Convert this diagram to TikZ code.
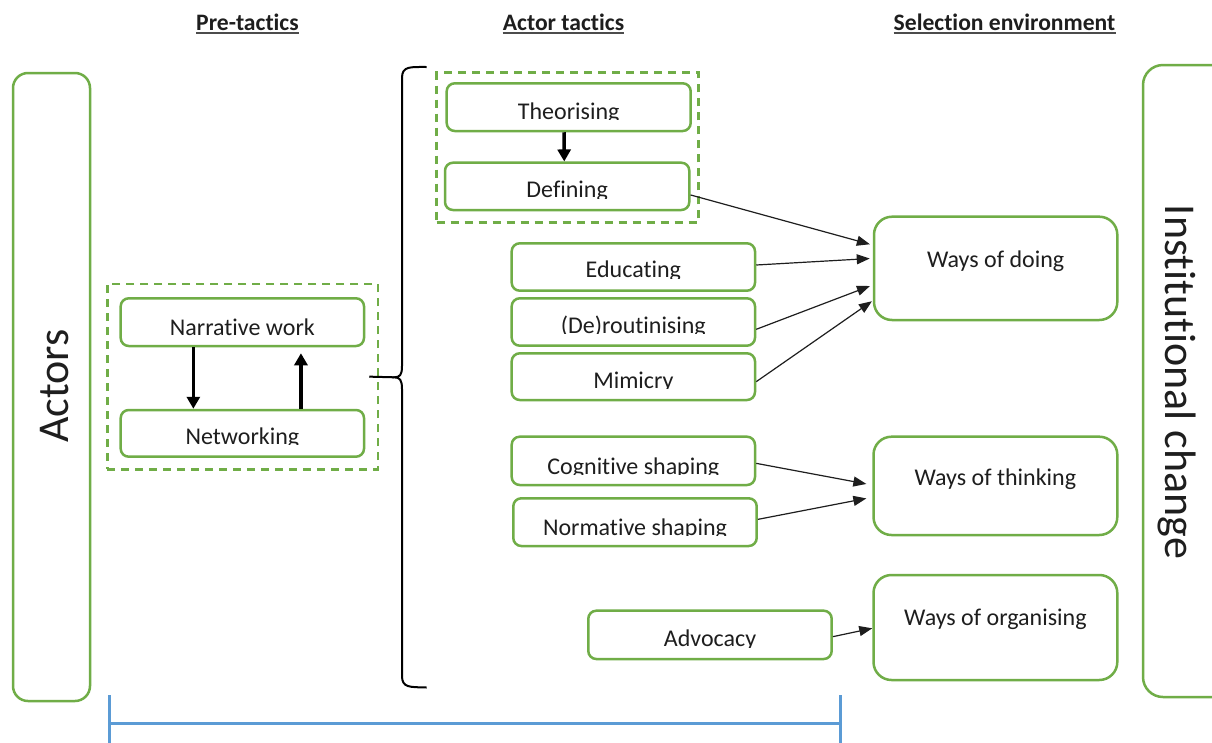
\documentclass[tikz,border=0pt]{standalone}
\usepackage{fontspec}
\setmainfont{Carlito}[Ligatures=NoCommon]
\usetikzlibrary{arrows.meta}

\definecolor{grn}{RGB}{112,173,71}
\definecolor{blu}{RGB}{91,155,213}
\definecolor{ink}{RGB}{30,30,30}

\tikzset{
  gbox/.style={draw=grn, line width=2.5pt, rounded corners=8pt, inner sep=0pt, fill=white},
  bigbox/.style={draw=grn, line width=2.5pt, rounded corners=18pt, inner sep=0pt},
  sidebox/.style={draw=grn, line width=2.5pt, rounded corners=15pt, inner sep=0pt},
  groupbox/.style={draw=grn, line width=2.5pt, dash pattern=on 8pt off 6pt, inner sep=0pt},
  boxtext/.style={text=ink, inner sep=0pt, font=\fontsize{24}{28}\selectfont},
  sidetext/.style={text=ink, inner sep=0pt, font=\fontsize{44}{50}\selectfont},
  hdr/.style={text=ink, inner sep=0pt, font=\fontsize{23.6}{27}\selectfont\bfseries},
  hdrline/.style={draw=black!70, line width=2pt},
  thinarrow/.style={draw=ink, line width=1.2pt, -{Triangle[length=13pt,width=10pt]}, shorten >=3pt},
  thickarrow/.style={draw=black, line width=3.5pt, -{Triangle[length=12pt,width=13pt]}},
  brace/.style={draw=black, line width=2pt},
  span/.style={draw=blu, line width=3pt},
}

% tactic box: name, x1, y1, x2, y2, baseline, label (label cut at its baseline)
\newcommand\tacticbox[7]{%
  \node[gbox, minimum width={#4-#2}, minimum height={#5-#3}] (#1) at ({(#2+#4)/2},{(#3+#5)/2}) {};
  \begin{scope}
    \clip (#2,#3) rectangle (#4,#6+0.8);
    \node[boxtext, anchor=base] (#1-label) at ({(#2+#4)/2},#6) {#7};
  \end{scope}}

% outcome box: name, x1, y1, x2, y2, baseline, label
\newcommand\outcomebox[7]{%
  \node[bigbox, minimum width={#4-#2}, minimum height={#5-#3}] (#1) at ({(#2+#4)/2},{(#3+#5)/2}) {};
  \node[boxtext, anchor=base] (#1-label) at ({(#2+#4)/2},#6) {#7};}

\begin{document}
\begin{tikzpicture}[x=1pt, y=-1pt]
\clip (0,0) rectangle (1212,742);
\fill[white] (0,0) rectangle (1212,742);

% column headings
\node[hdr, anchor=base] (hpre) at (247.5,30.7) {Pre-tactics};
\node[hdr, anchor=base] (hact) at (563.5,30.7) {Actor tactics};
\node[hdr, anchor=base] (hsel) at (1004.5,30.7) {Selection environment};
\foreach \h in {hpre,hact,hsel}
  \draw[hdrline] ([yshift=-2pt]\h.base west) -- ([yshift=-2pt]\h.base east);

% side boxes
\node[sidebox, minimum width=77, minimum height=628] (actors) at (51.5,387) {};
\node[sidetext, rotate=90, anchor=base] (actors-label) at (68,386) {Actors};
\node[sidebox, rounded corners=20pt, minimum width=100, minimum height=632] (inst) at (1193,381) {};
\node[sidetext, rotate=-90, anchor=base] (inst-label) at (1165,382) {Institutional change};

% pre-tactics group
\node[groupbox, minimum width=270.7, minimum height=185.3] (pretac) at (242.65,376.65) {};
\tacticbox{narr}{120.7}{298.3}{364}{346}{335}{Narrative work}
\tacticbox{netw}{120.7}{410}{364}{456.7}{444}{Networking}
\draw[thickarrow] ([xshift=-49pt]narr.south) -- ([xshift=-49pt]netw.north);
\draw[thickarrow, shorten >=6pt] ([xshift=58.6pt]netw.north) -- ([xshift=58.6pt]narr.south);

% actor tactics
\node[groupbox, minimum width=261.6, minimum height=150] (actgrp) at (567.5,147.7) {};
\tacticbox{theo}{446.7}{83.3}{690.7}{131}{119}{Theorising}
\tacticbox{defi}{445}{162.7}{689.3}{210}{197.7}{Defining}
\draw[thickarrow] ([xshift=-4.7pt]theo.south) -- ([xshift=-2.9pt]defi.north);

\tacticbox{educ}{511.7}{243.3}{755}{290.7}{277.7}{Educating}
\tacticbox{rout}{511.7}{298.3}{755}{345.7}{333}{(De)routinising}
\tacticbox{mimi}{511.7}{353.3}{755}{400}{388}{Mimicry}
\tacticbox{cogn}{511.7}{436.7}{755}{485}{474}{Cognitive shaping}
\tacticbox{norm}{513.3}{498.3}{756.7}{546}{535}{Normative shaping}
\tacticbox{advo}{588.3}{610.7}{831.7}{659}{646.4}{Advocacy}

% selection environment
\outcomebox{wdo}{874}{216.7}{1117.3}{320}{267}{Ways of doing}
\outcomebox{wth}{873.5}{436.7}{1117.3}{535}{485}{Ways of thinking}
\outcomebox{wor}{873.5}{575}{1117.3}{680}{625}{Ways of organising}

% tactic -> outcome links
\draw[thinarrow] ([yshift=-8.6pt]defi.east) -- ([yshift=23.3pt]wdo.west);
\draw[thinarrow] ([yshift=2pt]educ.east) -- ([yshift=10pt]wdo.west);
\draw[thinarrow] ([yshift=-7.3pt]rout.east) -- ([yshift=-16.6pt]wdo.west);
\draw[thinarrow, shorten >=1pt] ([yshift=-5pt]mimi.east) -- ([yshift=-32.3pt]wdo.west);
\draw[thinarrow, shorten >=6pt] ([yshift=-2.5pt]cogn.east) -- ([yshift=0.8pt]wth.west);
\draw[thinarrow, shorten >=6pt] ([yshift=2.8pt]norm.east) -- ([yshift=-11.4pt]wth.west);
\draw[thinarrow, shorten >=0pt] ([yshift=-1.8pt]advo.east) -- ([yshift=-0.8pt]wor.west);

% curly brace joining pre-tactics to actor tactics
\coordinate (bracetip) at (394,377.3);
\draw[brace] (426.7,67) .. controls (410,67) and (402,66) .. (402,78)
  -- (402,366) .. controls (402,375) and (400,377.3) .. (bracetip)
  .. controls (400,377.3) and (402,380) .. (402,389)
  -- (402,676) .. controls (402,688) and (410,687) .. (426.7,687.5);
\draw[brace] ([xshift=-10pt]pretac.east) -- (bracetip);

% span bar along the bottom
\draw[span] (109,695) -- (109,745);
\draw[span] (840,695) -- (840,745);
\draw[span] (109,723) -- (840,723);
\end{tikzpicture}
\end{document}
